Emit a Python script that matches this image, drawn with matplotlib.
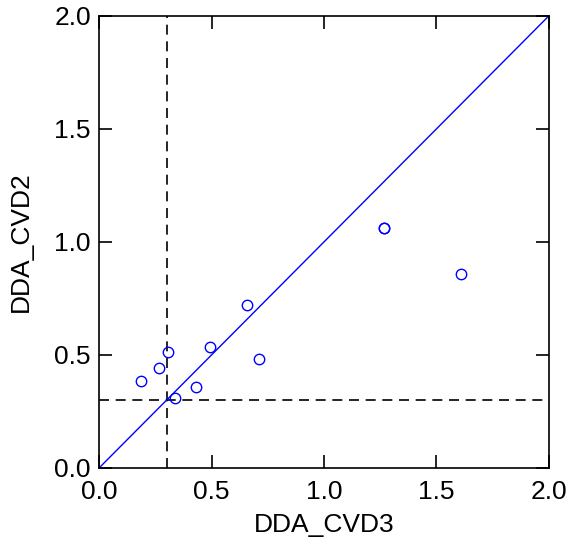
import matplotlib
matplotlib.use("Agg")
import matplotlib.pyplot as plt

plt.rcParams['font.family'] = ['Liberation Sans', 'DejaVu Sans']

cvd3 = [0.185, 0.267, 0.308, 0.338, 0.431, 0.495, 0.658, 0.712, 1.268, 1.268, 1.607]
cvd2 = [0.385, 0.442, 0.515, 0.310, 0.357, 0.534, 0.721, 0.481, 1.061, 1.063, 0.860]
threshold = 0.3
ticks = [0.0, 0.5, 1.0, 1.5, 2.0]
tick_labels = ["0.0", "0.5", "1.0", "1.5", "2.0"]

fig = plt.figure(figsize=(5.73, 5.46), dpi=100)
ax = fig.add_axes([0.173, 0.143, 0.785, 0.828])

ax.plot([0, 2], [0, 2], color='#0000ff', lw=1.0, zorder=2)
ax.axvline(threshold, color='black', lw=1.2, ls=(0, (6, 4)), zorder=1)
ax.axhline(threshold, color='black', lw=1.2, ls=(0, (6, 4)), zorder=1)
ax.plot(cvd3, cvd2, ls='none', marker='o', ms=7.5, mfc='none', mec='#0000ff', mew=1.0, zorder=3)

ax.set_xlim(0, 2)
ax.set_ylim(0, 2)
ax.set_xticks(ticks)
ax.set_xticklabels(tick_labels)
ax.set_yticks(ticks)
ax.set_yticklabels(tick_labels)
ax.tick_params(direction='in', length=9.5, width=1.2, top=True, right=True, labelsize=19, colors='black')
ax.tick_params(axis='x', pad=9)
ax.tick_params(axis='y', pad=6)
for s in ax.spines.values():
    s.set_linewidth(1.2)
ax.set_xlabel("DDA_CVD3", fontsize=19, labelpad=6)
ax.set_ylabel("DDA_CVD2", fontsize=19, labelpad=15)

fig.savefig("out.png", dpi=100)
